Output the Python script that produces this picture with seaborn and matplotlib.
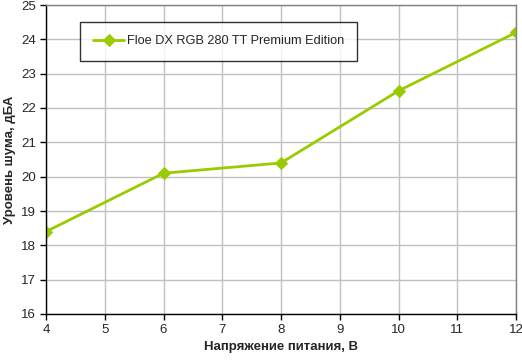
import matplotlib
matplotlib.use("Agg")
import matplotlib.pyplot as plt
import seaborn as sns
import pandas as pd

voltage = [4, 6, 8, 10, 12]
noise = [18.4, 20.1, 20.4, 22.5, 24.2]
series_name = "Floe DX RGB 280 TT Premium Edition"
x_label = "Напряжение питания, В"
y_label = "Уровень шума, дБА"

sns.set_theme(style="white")
plt.rcParams['font.family'] = ['Liberation Sans', 'DejaVu Sans']

df = pd.DataFrame({"v": voltage, "n": noise, "s": series_name})

fig = plt.figure(figsize=(5.22, 3.61), dpi=100)
ax = fig.add_axes([46/522, 47/361, 470/522, 309/361])
color = "#99CC00"
sns.lineplot(data=df, x="v", y="n", hue="s", palette=[color], marker="D",
             markersize=6, markeredgecolor=color, linewidth=2, ax=ax)

ax.set_xlim(4, 12)
ax.set_ylim(16, 25)
ax.set_xticks(range(4, 13))
ax.set_yticks(range(16, 26))
ax.grid(True, color="#C0C0C0", linewidth=1)
ax.set_axisbelow(True)
for s in ["top", "right"]:
    ax.spines[s].set_color("#808080")
    ax.spines[s].set_linewidth(1)
for s in ["left", "bottom"]:
    ax.spines[s].set_color("black")
    ax.spines[s].set_linewidth(1)
ax.tick_params(axis="both", direction="out", length=4, width=1, color="black",
               labelsize=9.5, pad=3, bottom=True, left=True)
ax.set_xlabel(x_label, fontsize=9.5, fontweight="bold")
ax.set_ylabel(y_label, fontsize=9.5, fontweight="bold")

leg = ax.legend(loc="upper left", bbox_to_anchor=(34/470, 292/309),
                frameon=True, fancybox=False, fontsize=9.2, borderpad=1.05,
                handlelength=2.4, handletextpad=0.2, borderaxespad=0)
leg.get_frame().set_edgecolor("black")
leg.get_frame().set_linewidth(1)

fig.savefig("out.png", dpi=100)
